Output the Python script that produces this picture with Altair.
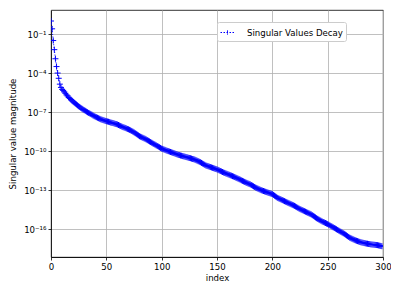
import altair as alt
import pandas as pd

# log10 of singular values (index 0..299)
log_sv = [
    0.0, -0.6, -1.5, -2.2, -2.9, -3.5, -4.0, -4.4, -4.85, -5.1,
    -5.25, -5.33, -5.44, -5.55, -5.68, -5.76, -5.88, -5.95, -6.03, -6.12,
    -6.2, -6.27, -6.34, -6.41, -6.48, -6.55, -6.61, -6.68, -6.74, -6.8,
    -6.85, -6.9, -6.96, -7.01, -7.06, -7.1, -7.15, -7.2, -7.26, -7.31,
    -7.35, -7.39, -7.43, -7.47, -7.51, -7.55, -7.58, -7.61, -7.64, -7.67,
    -7.7, -7.72, -7.74, -7.77, -7.8, -7.82, -7.84, -7.87, -7.9, -7.92,
    -7.95, -7.99, -8.03, -8.07, -8.11, -8.15, -8.18, -8.21, -8.25, -8.29,
    -8.32, -8.36, -8.4, -8.45, -8.5, -8.55, -8.61, -8.67, -8.73, -8.79,
    -8.85, -8.89, -8.93, -8.97, -9.01, -9.05, -9.1, -9.15, -9.2, -9.25,
    -9.3, -9.35, -9.4, -9.45, -9.5, -9.55, -9.6, -9.65, -9.7, -9.75,
    -9.8, -9.83, -9.87, -9.9, -9.94, -9.97, -10.0, -10.03, -10.06, -10.09,
    -10.12, -10.15, -10.18, -10.22, -10.25, -10.28, -10.3, -10.33, -10.35, -10.38,
    -10.4, -10.42, -10.45, -10.47, -10.5, -10.52, -10.54, -10.57, -10.6, -10.62,
    -10.65, -10.69, -10.73, -10.77, -10.81, -10.85, -10.9, -10.95, -11.0, -11.05,
    -11.1, -11.13, -11.16, -11.19, -11.22, -11.25, -11.28, -11.31, -11.34, -11.37,
    -11.4, -11.44, -11.48, -11.52, -11.56, -11.6, -11.64, -11.67, -11.71, -11.74,
    -11.78, -11.81, -11.85, -11.88, -11.92, -11.95, -11.99, -12.03, -12.07, -12.11,
    -12.15, -12.19, -12.24, -12.28, -12.32, -12.36, -12.4, -12.44, -12.48, -12.51,
    -12.55, -12.6, -12.65, -12.7, -12.75, -12.8, -12.84, -12.88, -12.92, -12.96,
    -13.0, -13.03, -13.06, -13.09, -13.12, -13.15, -13.18, -13.21, -13.24, -13.27,
    -13.3, -13.36, -13.42, -13.48, -13.54, -13.6, -13.64, -13.68, -13.72, -13.76,
    -13.8, -13.84, -13.88, -13.92, -13.96, -14.0, -14.04, -14.08, -14.12, -14.16,
    -14.2, -14.25, -14.3, -14.35, -14.4, -14.45, -14.49, -14.53, -14.57, -14.61,
    -14.65, -14.69, -14.73, -14.77, -14.81, -14.85, -14.91, -14.97, -15.03, -15.09,
    -15.15, -15.2, -15.25, -15.3, -15.35, -15.4, -15.44, -15.48, -15.52, -15.56,
    -15.6, -15.65, -15.7, -15.75, -15.8, -15.85, -15.9, -15.95, -16.0, -16.05,
    -16.1, -16.15, -16.2, -16.25, -16.3, -16.35, -16.41, -16.47, -16.53, -16.59,
    -16.65, -16.69, -16.73, -16.77, -16.81, -16.85, -16.88, -16.91, -16.94, -16.97,
    -17.0, -17.02, -17.04, -17.06, -17.08, -17.1, -17.11, -17.13, -17.14, -17.16,
    -17.17, -17.18, -17.19, -17.2, -17.21, -17.22, -17.24, -17.26, -17.28, -17.3,
]
index = list(range(len(log_sv)))
series_name = ["Singular Values Decay"]
x_ticks = [0, 50, 100, 150, 200, 250, 300]
y_ticks = [1e-16, 1e-13, 1e-10, 1e-7, 1e-4, 1e-1]

df = pd.DataFrame({
    "index": index,
    "value": [10 ** v for v in log_sv],
    "series": series_name * len(index),
})

FONT = "DejaVu Sans"
FS = 8.6

label_expr = (
    "datum.value < 1e-15 ? '10⁻¹⁶' : datum.value < 1e-12 ? '10⁻¹³' : "
    "datum.value < 1e-9 ? '10⁻¹⁰' : datum.value < 1e-6 ? '10⁻⁷' : "
    "datum.value < 1e-3 ? '10⁻⁴' : '10⁻¹'"
)

x_enc = alt.X(
    "index:Q",
    scale=alt.Scale(domain=[0, 300], nice=False, zero=False),
    axis=alt.Axis(values=x_ticks, title="index", format="d"),
)
y_enc = alt.Y(
    "value:Q",
    scale=alt.Scale(type="log", domain=[10 ** -18.13, 10 ** 0.846], nice=False),
    axis=alt.Axis(values=y_ticks, labelExpr=label_expr, title="Singular value magnitude"),
)
color_enc = alt.Color(
    "series:N",
    scale=alt.Scale(domain=series_name, range=["blue"]),
    legend=alt.Legend(
        title=None,
        orient="none",
        legendX=166,
        legendY=12,
        fillColor="white",
        strokeColor="#cccccc",
        cornerRadius=2,
        padding=3,
        symbolType="M-1,0L1,0M0,-0.3L0,0.3",
        symbolSize=196,
        symbolStrokeWidth=1,
        symbolDash=[1.5, 1.5],
        symbolStrokeColor="blue",
        labelOffset=12,
        labelFont=FONT,
        labelFontSize=FS,
        labelColor="black",
    ),
)

line = alt.Chart(df).mark_line(strokeWidth=1, strokeDash=[1, 1.6], clip=True).encode(
    x=x_enc, y=y_enc, color=color_enc
)
points = alt.Chart(df).mark_point(
    shape="M-1,0L1,0M0,-1L0,1", filled=False, strokeWidth=1, size=36, clip=True, opacity=1
).encode(x=x_enc, y=y_enc, color=alt.Color("series:N", scale=alt.Scale(domain=series_name, range=["blue"]), legend=None))

chart = (
    alt.layer(line, points)
    .properties(
        width=332,
        height=247,
        autosize=alt.AutoSizeParams(type="none"),
        padding={"left": 43, "top": 2, "right": 8, "bottom": 27},
        background="white",
    )
    .configure_view(stroke="black", strokeWidth=0.8)
    .configure_axis(
        labelFont=FONT,
        labelFontSize=FS,
        labelColor="black",
        titleFont=FONT,
        titleFontSize=FS,
        titleFontWeight="normal",
        titleColor="black",
        grid=True,
        gridColor="#b0b0b0",
        gridWidth=0.8,
        domainColor="black",
        domainWidth=0.8,
        tickColor="black",
        tickSize=3,
        tickWidth=0.8,
        labelPadding=2,
    )
    .configure_axisX(titlePadding=3, labelFlush=False)
    .configure_axisY(titlePadding=6, labelFlush=False)
)

chart.save("out.html", embed_options={"renderer": "svg", "actions": False})
